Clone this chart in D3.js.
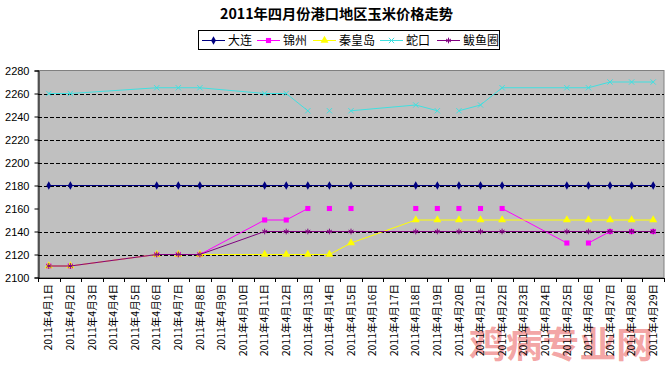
<!DOCTYPE html>
<html><head><meta charset="utf-8">
<script src="https://cdn.jsdelivr.net/npm/d3@7"></script>
<style>body{margin:0;background:#fff} svg{display:block}</style>
</head><body><svg id="c" width="666" height="367"></svg>
<script>
const categories = ["2011年4月1日","2011年4月2日","2011年4月3日","2011年4月4日","2011年4月5日","2011年4月6日","2011年4月7日","2011年4月8日","2011年4月9日","2011年4月10日","2011年4月11日","2011年4月12日","2011年4月13日","2011年4月14日","2011年4月15日","2011年4月16日","2011年4月17日","2011年4月18日","2011年4月19日","2011年4月20日","2011年4月21日","2011年4月22日","2011年4月23日","2011年4月24日","2011年4月25日","2011年4月26日","2011年4月27日","2011年4月28日","2011年4月29日"];
const seriesNames = ["大连","锦州","秦皇岛","蛇口","鲅鱼圈"];
const dalian =      [2180,2180,null,null,null,2180,2180,2180,null,null,2180,2180,2180,2180,2180,null,null,2180,2180,2180,2180,2180,null,null,2180,2180,2180,2180,2180];
const jinzhou =     [2110,2110,null,null,null,2120,2120,2120,null,null,2150,2150,2160,2160,2160,null,null,2160,2160,2160,2160,2160,null,null,2130,2130,2140,2140,2140];
const qinhuangdao = [2110,2110,null,null,null,2120,2120,2120,null,null,2120,2120,2120,2120,2130,null,null,2150,2150,2150,2150,2150,null,null,2150,2150,2150,2150,2150];
const shekou =      [2260,2260,null,null,null,2265,2265,2265,null,null,2260,2260,2245,2245,2245,null,null,2250,2245,2245,2250,2265,null,null,2265,2265,2270,2270,2270];
const bayuquan =    [2110,2110,null,null,null,2120,2120,2120,null,null,2140,2140,2140,2140,2140,null,null,2140,2140,2140,2140,2140,null,null,2140,2140,2140,2140,2140];
// point indices where the drawn line restarts (not joined to previous point)
const dalianBreaks = [];
const jinzhouBreaks = [13,14,17,18,19,20,21,25];
const qinhuangdaoBreaks = [];
const shekouBreaks = [13,14,19];
const bayuquanBreaks = [];
const yTicks = [2100,2120,2140,2160,2180,2200,2220,2240,2260,2280];
const gridValues = [2120,2140,2180,2200,2220,2240,2260];
const titleText = "2011年四月份港口地区玉米价格走势";
const watermarkText = "鸡病专业网";

(function () {
const W = 666, H = 367;
const pL = 38, pR = 664, pT = 70.5, pB = 277.5;
const svg = d3.select("#c");
const cjk = "'Noto Sans CJK SC', sans-serif";

svg.append("rect").attr("width", W).attr("height", H).attr("fill", "#fff");

const x = d3.scaleBand().domain(categories).range([pL, pR]).padding(0);
const y = d3.scaleLinear().domain([2100, 2280]).range([pB, pT]);
const cx = c => x(c) + x.bandwidth() / 2;

// watermark
svg.append("text").attr("x", 469).attr("y", 358).text(watermarkText)
  .attr("font-family", cjk).attr("font-weight", "bold").attr("font-size", 36)
  .attr("textLength", 184).attr("lengthAdjust", "spacingAndGlyphs")
  .attr("fill", "#f29a9a").attr("fill-opacity", 0.9);

// plot area
svg.append("rect").attr("x", pL).attr("y", pT).attr("width", pR - pL).attr("height", pB - pT)
  .attr("fill", "#c0c0c0").attr("stroke", "#808080").attr("stroke-width", 1);

// grid
svg.append("g").selectAll("line").data(gridValues).join("line")
  .attr("x1", pL).attr("x2", pR)
  .attr("y1", d => Math.round(y(d)) + 0.5).attr("y2", d => Math.round(y(d)) + 0.5)
  .attr("stroke", "#000").attr("stroke-width", 1).attr("stroke-dasharray", "4,2");

// y axis
const ya = svg.append("g").attr("transform", `translate(${pL + 0.5},0)`)
  .call(d3.axisLeft(y).tickValues(yTicks).tickSize(4).tickPadding(5).tickFormat(d3.format("d")));
ya.select(".domain").attr("stroke", "#000");
ya.selectAll(".tick line").attr("stroke", "#000");
ya.selectAll("text").attr("font-family", "'Liberation Sans', Arial, sans-serif").attr("font-size", 11).attr("fill", "#000");

// x axis
const xa = svg.append("g").attr("transform", `translate(0,${pB + 0.5})`)
  .call(d3.axisBottom(x).tickSize(0).tickPadding(0));
xa.select(".domain").attr("stroke", "#000");
xa.selectAll(".tick text")
  .attr("font-family", cjk).attr("font-size", 10.5).attr("fill", "#000")
  .attr("text-anchor", "end")
  .attr("transform", "translate(0,6) rotate(-90)")
  .attr("x", 0).attr("y", 0).attr("dy", "0.35em");
xa.append("g").selectAll("line").data(d3.range(categories.length + 1)).join("line")
  .attr("x1", i => Math.round(pL + i * x.step()) + 0.5)
  .attr("x2", i => Math.round(pL + i * x.step()) + 0.5)
  .attr("y1", 0).attr("y2", 4).attr("stroke", "#000");

// series
const series = [
  {name: seriesNames[0], values: dalian, breaks: dalianBreaks, color: "#000080", sym: d3.symbolDiamond, size: 20, fill: true},
  {name: seriesNames[1], values: jinzhou, breaks: jinzhouBreaks, color: "#ff00ff", sym: d3.symbolSquare, size: 26, fill: true},
  {name: seriesNames[2], values: qinhuangdao, breaks: qinhuangdaoBreaks, color: "#ffff00", sym: d3.symbolTriangle, size: 28, fill: true},
  {name: seriesNames[3], values: shekou, breaks: shekouBreaks, color: "#40e0e0", sym: d3.symbolX, size: 20, fill: false},
  {name: seriesNames[4], values: bayuquan, breaks: bayuquanBreaks, color: "#800080", sym: d3.symbolAsterisk, size: 22, fill: false}
];

const line = d3.line().x(d => cx(categories[d.i])).y(d => y(d.v));
function segments(s) {
  const segs = []; let cur = [];
  s.values.forEach((v, i) => {
    if (v == null) return;
    if (s.breaks.includes(i) && cur.length) { segs.push(cur); cur = []; }
    cur.push({i, v});
  });
  if (cur.length) segs.push(cur);
  return segs.filter(g => g.length > 1);
}
function marker(g, s, px, py) {
  const p = g.append("path").attr("d", d3.symbol(s.sym, s.size)())
    .attr("transform", `translate(${px},${py})`);
  if (s.fill) p.attr("fill", s.color).attr("stroke", "none");
  else p.attr("fill", "none").attr("stroke", s.color).attr("stroke-width", 1);
}
series.forEach(s => {
  const g = svg.append("g");
  g.selectAll("path.l").data(segments(s)).join("path").attr("class", "l")
    .attr("d", line).attr("fill", "none").attr("stroke", s.color).attr("stroke-width", 1);
  s.values.forEach((v, i) => { if (v != null) marker(g, s, cx(categories[i]), y(v)); });
});

// title
svg.append("text").attr("x", 220).attr("y", 19).text(titleText)
  .attr("font-family", cjk).attr("font-weight", "bold").attr("font-size", 14)
  .attr("textLength", 233).attr("lengthAdjust", "spacingAndGlyphs").attr("fill", "#000");

// legend
const lg = svg.append("g");
lg.append("rect").attr("x", 198.5).attr("y", 30.5).attr("width", 301).attr("height", 19)
  .attr("fill", "#fff").attr("stroke", "#000");
const legendX = [202, 257, 313, 380, 437];
series.forEach((s, k) => {
  const x0 = legendX[k], ly = 40.5;
  lg.append("line").attr("x1", x0).attr("x2", x0 + 23).attr("y1", ly).attr("y2", ly)
    .attr("stroke", s.color).attr("stroke-width", 1);
  marker(lg, s, x0 + 11.5, ly);
  lg.append("text").attr("x", x0 + 26).attr("y", ly + 4.5).text(s.name)
    .attr("font-family", cjk).attr("font-size", 12).attr("fill", "#000");
});
})();
</script></body></html>
